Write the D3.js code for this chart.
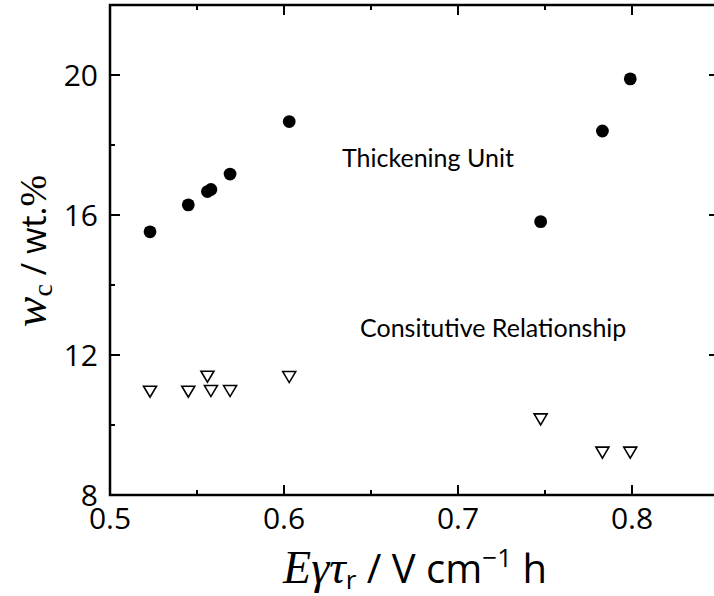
<!DOCTYPE html>
<html>
<head>
<meta charset="utf-8">
<script src="https://cdn.jsdelivr.net/npm/d3@7"></script>
<style>
  html, body { margin: 0; padding: 0; background: #fff; }
  svg { display: block; }
</style>
</head>
<body>
<svg id="chart" width="714" height="596"></svg>
<script>
// Field strength × shear × relaxation time (V cm^-1 h)
const xValues = [0.523, 0.545, 0.556, 0.558, 0.569, 0.603, 0.7475, 0.783, 0.799];
// Critical concentration from the thickening unit (wt.%)
const thickeningUnit = [15.52, 16.29, 16.67, 16.73, 17.17, 18.67, 15.81, 18.40, 19.89];
// Critical concentration from the constitutive relationship (wt.%)
const constitutive = [10.95, 10.95, 11.38, 10.97, 10.97, 11.37, 10.16, 9.21, 9.21];

const xMajorTicks = [0.5, 0.6, 0.7, 0.8];
const xMinorTicks = [0.55, 0.65, 0.75, 0.85];
const yMajorTicks = [8, 12, 16, 20];
const yMinorTicks = [10, 14, 18, 22];

const svg = d3.select("#chart");
const plotLeft = 110, plotRight = 719, plotTop = 5, plotBottom = 495;

const x = d3.scaleLinear().domain([0.5, 0.85]).range([plotLeft, plotRight]);
const y = d3.scaleLinear().domain([8, 22]).range([plotBottom, plotTop]);

const tickFont = "'Open Sans', 'Noto Sans', sans-serif";
const axisColor = "#000";
const majorLen = 10, minorLen = 5;

// frame
svg.append("rect")
  .attr("x", plotLeft).attr("y", plotTop)
  .attr("width", plotRight - plotLeft).attr("height", plotBottom - plotTop)
  .attr("fill", "none").attr("stroke", axisColor).attr("stroke-width", 2.5);

const ticks = svg.append("g").attr("stroke", axisColor).attr("stroke-width", 2);

function xTicks(vals, len) {
  vals.forEach(v => {
    ticks.append("line").attr("x1", x(v)).attr("x2", x(v)).attr("y1", plotBottom).attr("y2", plotBottom - len);
    ticks.append("line").attr("x1", x(v)).attr("x2", x(v)).attr("y1", plotTop).attr("y2", plotTop + len);
  });
}
function yTicks(vals, len) {
  vals.forEach(v => {
    ticks.append("line").attr("y1", y(v)).attr("y2", y(v)).attr("x1", plotLeft).attr("x2", plotLeft + len);
    ticks.append("line").attr("y1", y(v)).attr("y2", y(v)).attr("x1", plotRight).attr("x2", plotRight - len);
  });
}
xTicks(xMajorTicks, majorLen);
xTicks(xMinorTicks, minorLen);
yTicks(yMajorTicks, majorLen);
yTicks(yMinorTicks, minorLen);

// tick labels
svg.append("g").selectAll("text").data(xMajorTicks).join("text")
  .attr("x", d => x(d)).attr("y", 529)
  .attr("text-anchor", "middle")
  .attr("font-family", tickFont).attr("font-size", 30)
  .text(d => d.toFixed(1));

svg.append("g").selectAll("text").data(yMajorTicks).join("text")
  .attr("x", 98).attr("y", d => y(d) + 10.5)
  .attr("text-anchor", "end")
  .attr("font-family", tickFont).attr("font-size", 30)
  .text(d => d);

// data markers
svg.append("g").selectAll("circle").data(xValues).join("circle")
  .attr("cx", d => x(d))
  .attr("cy", (d, i) => y(thickeningUnit[i]))
  .attr("r", 6.4)
  .attr("fill", "#000");

const triW = 13, triH = 11;
svg.append("g").selectAll("path").data(xValues).join("path")
  .attr("transform", (d, i) => `translate(${x(d)},${y(constitutive[i])})`)
  .attr("d", `M${-triW / 2},${-triH / 2}L${triW / 2},${-triH / 2}L0,${triH / 2}Z`)
  .attr("fill", "#fff").attr("stroke", "#000").attr("stroke-width", 1.6)
  .attr("stroke-linejoin", "miter");

// annotations
const noteFont = "Lato, 'Open Sans', sans-serif";
svg.append("text").attr("x", 342).attr("y", 167)
  .attr("font-family", noteFont).attr("font-size", 25)
  .text("Thickening Unit");
svg.append("text").attr("x", 360).attr("y", 337)
  .attr("font-family", noteFont).attr("font-size", 25)
  .text("Consitutive Relationship");

// x-axis title: Eγτ_r / V cm^-1 h
const serif = "'Liberation Serif', 'DejaVu Serif', serif";
const xt = svg.append("text").attr("x", 415).attr("y", 583)
  .attr("text-anchor", "middle")
  .attr("font-family", tickFont).attr("font-size", 40);
xt.append("tspan").attr("font-family", serif).attr("font-style", "italic").attr("font-size", 46).text("Eγτ");
xt.append("tspan").attr("font-size", 26).attr("dy", 6).text("r");
xt.append("tspan").attr("dy", -6).text(" / V cm");
xt.append("tspan").attr("font-size", 26).attr("dy", -16).text("−1");
xt.append("tspan").attr("dy", 16).text(" h");

// y-axis title: w_c / wt.%
const yt = svg.append("text")
  .attr("transform", "translate(46,251) rotate(-90)")
  .attr("text-anchor", "middle")
  .attr("font-family", tickFont).attr("font-size", 34);
yt.append("tspan").attr("font-family", serif).attr("font-style", "italic").attr("font-size", 46).text("w");
yt.append("tspan").attr("font-family", serif).attr("font-size", 28).attr("dy", 6).text("c");
yt.append("tspan").attr("dy", -6).text(" / wt.");
yt.append("tspan").attr("font-family", serif).attr("font-size", 38).text("%");
</script>
</body>
</html>
